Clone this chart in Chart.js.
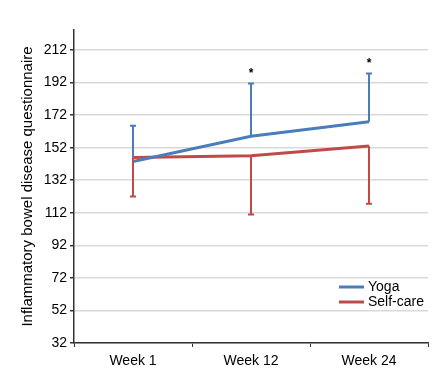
<!DOCTYPE html>
<html>
<head>
<meta charset="utf-8">
<script src="https://cdn.jsdelivr.net/npm/chart.js@4"></script>
<style>
  html, body { margin: 0; padding: 0; background: #fff; }
  #wrap { width: 441px; height: 379px; }
</style>
</head>
<body>
<div id="wrap"><canvas id="qolChart" width="441" height="379"></canvas></div>
<script>
const weeks = ['Week 1', 'Week 12', 'Week 24'];
const yogaMean = [143.5, 159, 168];
const yogaUpper = [165.5, 191.5, 197.5];
const selfCareMean = [146, 147, 153];
const selfCareLower = [122, 111, 117.5];
const significance = ['', '*', '*'];
const yTicks = [32, 52, 72, 92, 112, 132, 152, 172, 192, 212];

const blue = '#4a7ebb';
const red = '#be4b48';

// draws the one-sided error bars, the stars and the legend
const errorBars = {
    id: 'errorBars',
    afterDatasetsDraw(chart) {
        const ctx = chart.ctx;
        const x = chart.scales.x;
        const y = chart.scales.y;
        const bars = [
            { mean: yogaMean, end: yogaUpper, color: blue },
            { mean: selfCareMean, end: selfCareLower, color: red }
        ];
        ctx.save();
        bars.forEach(b => {
            ctx.strokeStyle = b.color;
            ctx.lineWidth = 2;
            b.mean.forEach((m, i) => {
                const px = x.getPixelForValue(i);
                const y0 = y.getPixelForValue(m);
                const y1 = y.getPixelForValue(b.end[i]);
                ctx.beginPath();
                ctx.moveTo(px, y0);
                ctx.lineTo(px, y1);
                ctx.moveTo(px - 3, y1);
                ctx.lineTo(px + 3, y1);
                ctx.stroke();
            });
        });
        ctx.fillStyle = '#000';
        ctx.font = 'bold 12px "Liberation Sans", Arial, sans-serif';
        ctx.textAlign = 'center';
        ctx.textBaseline = 'middle';
        significance.forEach((s, i) => {
            if (!s) return;
            const px = x.getPixelForValue(i);
            const py = y.getPixelForValue(yogaUpper[i]) - 10;
            ctx.fillText(s, px, py);
        });

        // legend inside the plot, lower right
        ctx.font = '14px "Liberation Sans", Arial, sans-serif';
        ctx.textAlign = 'left';
        chart.data.datasets.forEach((ds, i) => {
            const ly = 287 + i * 15;
            ctx.strokeStyle = ds.borderColor;
            ctx.lineWidth = 3;
            ctx.beginPath();
            ctx.moveTo(339, ly);
            ctx.lineTo(364, ly);
            ctx.stroke();
            ctx.fillStyle = '#000';
            ctx.fillText(ds.label, 368, ly);
        });
        ctx.restore();
    }
};

new Chart(document.getElementById('qolChart'), {
    type: 'line',
    data: {
        labels: weeks,
        datasets: [
            { label: 'Yoga', data: yogaMean, borderColor: blue, backgroundColor: blue,
              borderWidth: 3, pointRadius: 0, tension: 0 },
            { label: 'Self-care', data: selfCareMean, borderColor: red, backgroundColor: red,
              borderWidth: 3, pointRadius: 0, tension: 0 }
        ]
    },
    options: {
        responsive: false,
        animation: false,
        layout: { padding: { top: 30, right: 13, bottom: 0, left: 0 } },
        plugins: {
            legend: { display: false },
            tooltip: { enabled: false }
        },
        scales: {
            x: {
                offset: true,
                grid: { drawOnChartArea: false, offset: true, tickLength: 4, tickColor: '#333' },
                border: { color: '#333', width: 1.5 },
                ticks: { color: '#000', padding: 6, maxRotation: 0,
                         font: { family: '"Liberation Sans", Arial, sans-serif', size: 14 } },
                afterFit(scale) { scale.height = 36; }
            },
            y: {
                min: 32,
                max: 224.3,
                afterBuildTicks(scale) { scale.ticks = yTicks.map(v => ({ value: v })); },
                grid: { color: '#d9d9d9', lineWidth: 1.5, tickLength: 4, tickColor: '#333' },
                border: { color: '#333', width: 1.5 },
                ticks: { color: '#000', padding: 3,
                         font: { family: '"Liberation Sans", Arial, sans-serif', size: 14 } },
                title: {
                    display: true,
                    text: 'Inflammatory bowel disease questionnaire',
                    color: '#000',
                    padding: { top: 19, bottom: 0 },
                    font: { family: '"Liberation Sans", Arial, sans-serif', size: 15 }
                },
                afterFit(scale) { scale.width = 74; }
            }
        }
    },
    plugins: [errorBars]
});
</script>
</body>
</html>
